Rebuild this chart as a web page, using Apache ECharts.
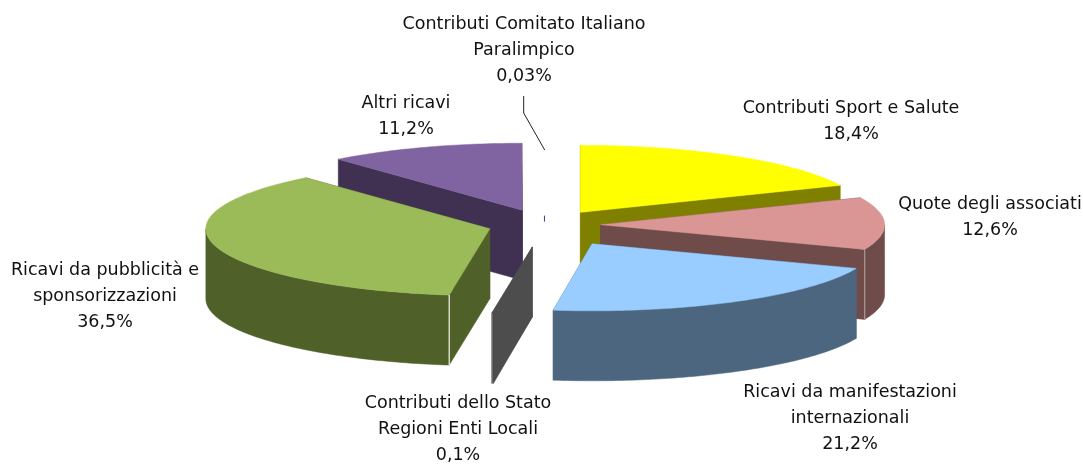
<!DOCTYPE html>
<html>
<head>
<meta charset="utf-8">
<style>html,body{margin:0;padding:0;background:#fff}#c{width:1083px;height:464px}</style>
<script src="https://cdn.jsdelivr.net/npm/echarts@6/dist/echarts.min.js"></script>
</head>
<body>
<div id="c"></div>
<script>
// Data, clockwise from 12 o'clock
const categories = ['Contributi Sport e Salute','Quote degli associati','Ricavi da manifestazioni\ninternazionali','Contributi dello Stato\nRegioni Enti Locali','Ricavi da pubblicità e\nsponsorizzazioni','Altri ricavi','Contributi Comitato Italiano\nParalimpico'];
const values = [18.4, 12.6, 21.2, 0.1, 36.5, 11.2, 0.03];
// Exploded distance of each slice, as a share of the radius
const explode = [0.225, 0.194, 0.325, 0.33, 0.204, 0.235, 0.14];
// Styles
const topColors  = ['#FFFF00','#D99694','#99CCFF','#4D4D4D','#9BBB59','#8064A2','#FFFFFF'];
const sideColors = ['#808000','#6F4B4A','#4C667F','#4D4D4D','#4F6028','#403152','#FFFFFF'];
// Light vertical edge on a slice's front corner: 'start', 'end' or ''
const cornerEdge = ['', 'end', '', 'end', 'start', '', ''];
const edgeColors = ['', '#A89A98', '', '#A0A0A0', '#F4F4EC', '', ''];
// Label anchors
const labelX = [851, 990, 850, 458, 105, 406, 524];
const labelY = [121, 217, 418, 429, 296, 116, 50];

const CX = 545.5, CY = 225, RX = 284, RY = 67, DEPTH = 70;
const total = values.reduce((a, b) => a + b, 0);

let acc = 0;
const slices = values.map((v, i) => {
  const start = acc / total * 360;
  acc += v;
  const end = acc / total * 360;
  const mid = (start + end) / 2 * Math.PI / 180;
  return {
    start, end,
    ax: CX + explode[i] * RX * Math.sin(mid),
    ay: CY - explode[i] * RY * Math.cos(mid)
  };
});
const rim = (s, deg, dz) => {
  const t = deg * Math.PI / 180;
  return [s.ax + RX * Math.sin(t), s.ay - RY * Math.cos(t) + (dz || 0)];
};
const arc = (s, a, b, dz) => {
  const pts = [];
  const n = Math.max(1, Math.ceil(Math.abs(b - a)));
  for (let k = 0; k <= n; k++) pts.push(rim(s, a + (b - a) * k / n, dz));
  return pts;
};
const poly = (points, fill) => ({
  type: 'polygon',
  shape: { points },
  style: { fill, stroke: fill, lineWidth: 0.5 }
});
const drawOrder = slices.map((s, i) => i).sort((a, b) => slices[a].ay - slices[b].ay);

function renderSlice(params, api) {
  const i = api.value(0);
  const s = slices[i];
  const children = [];
  if (values[i] < 0.05) {
    // sliver too thin to fill: only its inner corner shows
    children.push({
      type: 'line',
      shape: { x1: s.ax - 1, y1: s.ay, x2: s.ax - 1, y2: s.ay + 6 },
      style: { stroke: '#3B3B8C', lineWidth: 1 }
    });
    return { type: 'group', children };
  }
  const side = sideColors[i];
  [s.start, s.end].forEach(deg => {
    const p = rim(s, deg);
    children.push(poly([[s.ax, s.ay], p, [p[0], p[1] + DEPTH], [s.ax, s.ay + DEPTH]], side));
  });
  const a = Math.max(s.start, 90), b = Math.min(s.end, 270);
  if (b > a) {
    children.push(poly(arc(s, a, b).concat(arc(s, b, a, DEPTH)), side));
  }
  children.push(poly([[s.ax, s.ay]].concat(arc(s, s.start, s.end)), topColors[i]));
  if (cornerEdge[i]) {
    const p = rim(s, cornerEdge[i] === 'start' ? s.start : s.end);
    children.push({
      type: 'line',
      shape: { x1: p[0], y1: p[1], x2: p[0], y2: p[1] + DEPTH },
      style: { stroke: edgeColors[i], lineWidth: 1.2 }
    });
  }
  return { type: 'group', children };
}

const fmt = v => String(v).replace('.', ',') + '%';
const labels = categories.map((c, i) => ({
  type: 'text',
  x: labelX[i],
  y: labelY[i],
  style: {
    text: c + '\n' + fmt(values[i]),
    fill: '#111',
    font: '17.5px "DejaVu Sans"',
    lineHeight: 26,
    align: 'center',
    verticalAlign: 'middle'
  }
}));
const leader = {
  type: 'polyline',
  shape: { points: [[523.7, 96], [523.7, 113], [544.7, 150]] },
  style: { stroke: '#222', lineWidth: 1, fill: 'none' }
};

const chart = echarts.init(document.getElementById('c'), null, { renderer: 'canvas' });
chart.setOption({
  animation: false,
  backgroundColor: '#fff',
  graphic: labels.concat([leader]),
  series: [{
    type: 'custom',
    coordinateSystem: 'none',
    silent: true,
    clip: false,
    data: drawOrder.map(i => [i, values[i]]),
    renderItem: renderSlice
  }]
});
</script>
</body>
</html>
